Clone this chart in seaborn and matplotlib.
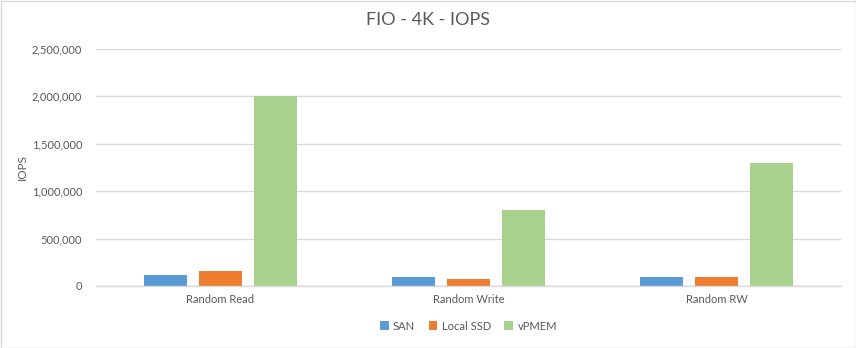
import matplotlib
matplotlib.use("Agg")
import matplotlib.pyplot as plt
import seaborn as sns
import pandas as pd
from matplotlib.ticker import FuncFormatter
from matplotlib.patches import Rectangle

categories = ["Random Read", "Random Write", "Random RW"]
series = ["SAN", "Local SSD", "vPMEM"]
san = [115000, 100000, 100000]
local_ssd = [155000, 70000, 100000]
vpmem = [2000000, 800000, 1300000]
colors = ["#5B9BD5", "#ED7D31", "#A9D18E"]

rows = []
for name, vals in zip(series, [san, local_ssd, vpmem]):
    for c, v in zip(categories, vals):
        rows.append({"cat": c, "series": name, "iops": v})
df = pd.DataFrame(rows)

sns.set_theme(style="white")
plt.rcParams["font.family"] = ["Lato", "DejaVu Sans"]

fig = plt.figure(figsize=(8.56, 3.48), dpi=100)
ax = fig.add_axes([96/856, 1-286/348, (841-96)/856, (286-49)/348])

sns.barplot(data=df, x="cat", y="iops", hue="series", hue_order=series,
            palette=colors, width=0.664, gap=0.22, ax=ax, errorbar=None,
            saturation=1, legend=True, linewidth=0)

ax.set_ylim(0, 2500000)
ax.set_yticks([0, 500000, 1000000, 1500000, 2000000, 2500000])
ax.yaxis.set_major_formatter(FuncFormatter(lambda v, p: f"{int(v):,}"))
ax.grid(axis="y", color="#D9D9D9", linewidth=1)
ax.set_axisbelow(True)
for s in ["top", "right", "left"]:
    ax.spines[s].set_visible(False)
ax.spines["bottom"].set_color("#D9D9D9")
ax.spines["bottom"].set_linewidth(1)
ax.tick_params(axis="both", length=0, colors="#595959", labelsize=8)
ax.tick_params(axis="y", pad=10)
ax.tick_params(axis="x", pad=6)
ax.set_xlabel("")
ax.set_ylabel("IOPS", color="#595959", fontsize=8.5, labelpad=-2)
ax.yaxis.set_label_coords(-(96-28)/745, 0.5)
ax.set_xlim(-0.5, 2.5)

fig.text(0.5, 1-20/348, "FIO - 4K - IOPS", ha="center", va="center",
         color="#595959", fontsize=13)

leg = ax.legend(loc="center", bbox_to_anchor=(0.5, (286-326)/(286-49)),
                bbox_transform=ax.transAxes, ncol=3, frameon=False,
                fontsize=8, handlelength=0.8, handleheight=0.8,
                handletextpad=0.4, columnspacing=1.2)
for t in leg.get_texts():
    t.set_color("#595959")

fig.patches.append(Rectangle((0.5/856, 0.5/348), 1-1/856, 1-1/348,
                             transform=fig.transFigure, fill=False,
                             edgecolor="#D9D9D9", linewidth=1))

fig.savefig("out.png", dpi=100, facecolor="white")
